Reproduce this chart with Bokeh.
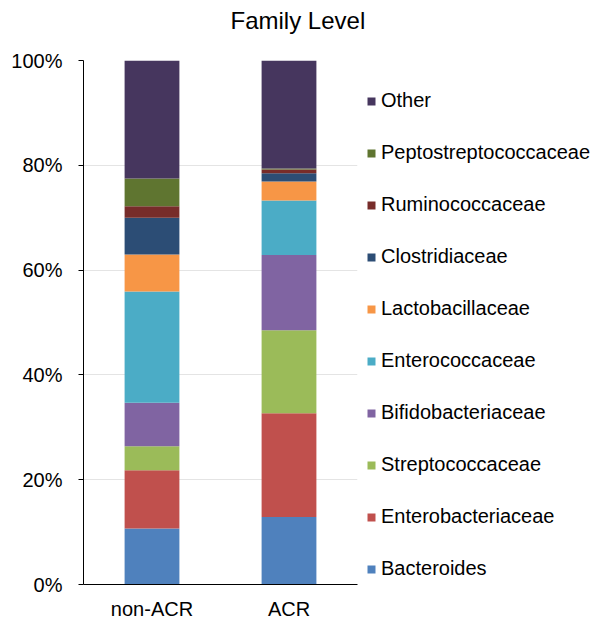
from bokeh.plotting import figure
from bokeh.models import Legend, LegendItem, ColumnDataSource, FixedTicker, PrintfTickFormatter, Range1d, Title
from bokeh.embed import file_html
from bokeh.resources import INLINE

groups = ["non-ACR", "ACR"]
families = ["Bacteroides", "Enterobacteriaceae", "Streptococcaceae", "Bifidobacteriaceae",
            "Enterococcaceae", "Lactobacillaceae", "Clostridiaceae", "Ruminococcaceae",
            "Peptostreptococcaceae", "Other"]
bacteroides = [10.7, 12.9]
enterobacteriaceae = [11.1, 19.8]
streptococcaceae = [4.6, 15.8]
bifidobacteriaceae = [8.3, 14.4]
enterococcaceae = [21.2, 10.4]
lactobacillaceae = [7.1, 3.6]
clostridiaceae = [7.0, 1.6]
ruminococcaceae = [2.2, 0.7]
peptostreptococcaceae = [5.3, 0.2]
other = [22.5, 20.6]
yticks = [0, 20, 40, 60, 80, 100]
title_text = "Family Level"

colors = ["#4F81BD", "#C0504D", "#9BBB59", "#8064A2", "#4BACC6", "#F79646",
          "#2C4D75", "#772C2A", "#5F7530", "#46365E"]

data = dict(group=groups, Bacteroides=bacteroides, Enterobacteriaceae=enterobacteriaceae,
            Streptococcaceae=streptococcaceae, Bifidobacteriaceae=bifidobacteriaceae,
            Enterococcaceae=enterococcaceae, Lactobacillaceae=lactobacillaceae,
            Clostridiaceae=clostridiaceae, Ruminococcaceae=ruminococcaceae,
            Peptostreptococcaceae=peptostreptococcaceae, Other=other)
source = ColumnDataSource(data)

FONT = "Liberation Sans"

p = figure(x_range=groups, y_range=Range1d(0, 100), frame_width=274, frame_height=524,
           min_border_left=83, min_border_right=243, min_border_top=60, min_border_bottom=42,
           output_backend="svg", toolbar_location=None)
p.x_range.range_padding = 0
p.x_range.factor_padding = 0

renderers = p.vbar_stack(families, x="group", width=0.4, color=colors, source=source, line_width=0)

spacer = Title(text=" ", text_font_size="1px", standoff=20)
p.add_layout(spacer, "above")
main_title = Title(text=title_text, text_font=FONT, text_font_size="24px", text_font_style="normal",
                   text_color="#000000", align="left", offset=147, standoff=8)
p.add_layout(main_title, "above")

p.outline_line_color = None
p.xgrid.grid_line_color = None
p.ygrid.grid_line_color = "#E4E4E4"
p.ygrid.ticker = FixedTicker(ticks=yticks)

p.yaxis.ticker = FixedTicker(ticks=yticks)
p.yaxis.formatter = PrintfTickFormatter(format="%d%%")
p.yaxis.minor_tick_line_color = None
p.yaxis.major_tick_in = 0
p.yaxis.major_tick_out = 5
p.yaxis.major_label_standoff = 16
p.yaxis.axis_line_color = "#000000"
p.yaxis.major_tick_line_color = "#000000"

p.xaxis.major_tick_line_color = None
p.xaxis.minor_tick_line_color = None
p.xaxis.major_label_standoff = 7
p.xaxis.axis_line_color = "#000000"

for ax in (p.xaxis, p.yaxis):
    ax.major_label_text_font = FONT
    ax.major_label_text_font_size = "20px"
    ax.major_label_text_color = "#000000"

items = [LegendItem(label=f, renderers=[r]) for f, r in zip(families, renderers)][::-1]
legend = Legend(items=items, location=(9, 4), margin=0, padding=0,
                glyph_width=10, glyph_height=10, label_height=22, spacing=29,
                label_standoff=5, border_line_color=None, background_fill_alpha=0,
                label_text_font=FONT, label_text_font_size="20px", label_text_color="#000000")
p.add_layout(legend, "right")

open("out.html", "w").write(file_html(p, INLINE))
